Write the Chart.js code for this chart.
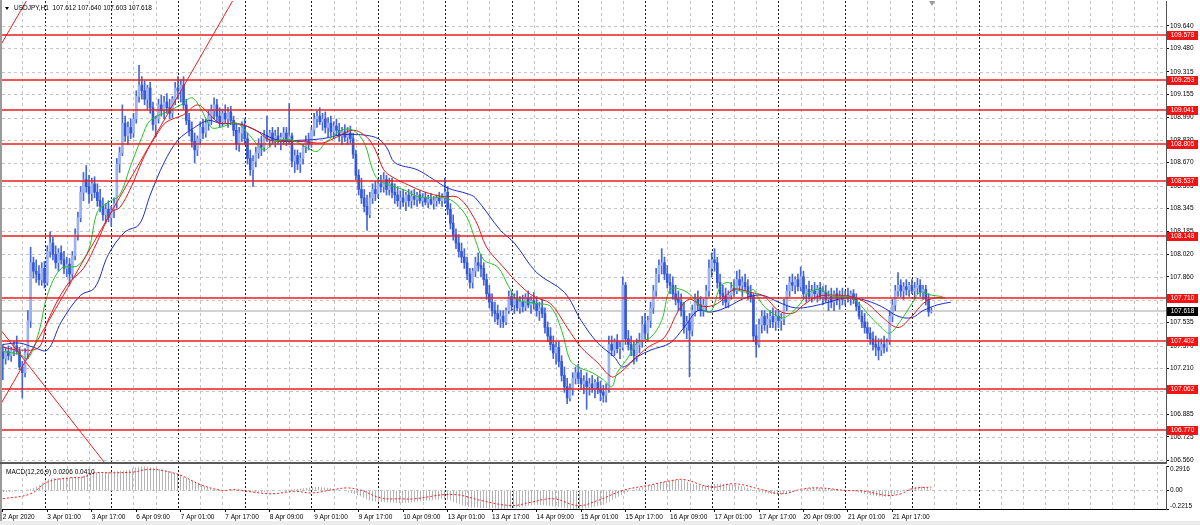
<!DOCTYPE html>
<html>
<head>
<meta charset="utf-8">
<script src="https://cdn.jsdelivr.net/npm/chart.js@4.4.1/dist/chart.umd.min.js"></script>
<style>
	body { margin: 0; background: #fff; width: 1200px; height: 525px; overflow: hidden; position: relative; }
	canvas { position: absolute; left: 0; }
	#main { top: 0; }
	#macd { top: 463px; }
	.txt { position: absolute; font: 6.5px "Liberation Sans", Arial, sans-serif; color: #000; white-space: nowrap; line-height: 8px; }
	#head { left: 14px; top: 4px; }
	#macdLabel { left: 6px; top: 468px; }
	#tri { position: absolute; left: 5px; top: 7px; width: 0; height: 0; border-left: 2.5px solid transparent; border-right: 2.5px solid transparent; border-top: 3px solid #000; }
	#shift { position: absolute; left: 929px; top: 1px; width: 0; height: 0; border-left: 3px solid transparent; border-right: 3px solid transparent; border-top: 5px solid #9a9a9a; }
	#leftEdge { position: absolute; left: 0; top: 0; width: 2px; height: 521px; background: #9a9a9a; }
	#split { position: absolute; left: 0; top: 462px; width: 1167px; height: 2px; background: #5a5a5a; }
	#bottom { position: absolute; left: 0; top: 521px; width: 1200px; height: 4px; background: #ececec; }
</style>
</head>
<body>
<canvas id="main" width="1200" height="463"></canvas>
<canvas id="macd" width="1200" height="62"></canvas>
<div id="leftEdge"></div>
<div id="split"></div>
<div id="bottom"></div>
<div id="tri"></div>
<div id="shift"></div>
<div class="txt" id="head">USDJPY,H1&nbsp; 107.612 107.640 107.603 107.618</div>
<div class="txt" id="macdLabel">MACD(12,26,9) 0.0206 0.0410</div>
<script>
// H1 bars, 2 Apr 2020 09:00 .. 22 Apr 07:00 (bar index 0..334)
const firstOpen = 107.33;
const closes = [
	// 2 Apr
	107.28,107.33,107.30,107.34,107.37,107.33,107.22,107.18,107.32,107.55,107.96,107.90,107.88,107.84,107.92,
	// 3 Apr
	107.82,108.04,108.10,108.02,107.96,108.03,107.98,107.92,107.95,107.88,108.01,108.16,108.28,108.46,108.55,108.50,108.45,108.52,108.46,108.40,108.36,108.30,108.34,108.28,
	// 6 Apr
	108.33,108.38,108.66,108.74,108.95,108.86,108.92,108.88,108.98,109.14,109.22,109.18,109.12,109.20,109.06,108.94,108.98,109.08,109.04,109.10,109.06,109.02,109.12,109.20,
	// 7 Apr
	109.18,109.22,109.08,108.97,108.90,108.82,108.76,108.84,108.92,108.88,108.95,109.00,109.04,109.08,109.00,108.96,109.02,108.98,109.03,108.97,108.90,108.80,108.88,108.93,
	// 8 Apr
	108.84,108.70,108.62,108.68,108.74,108.80,108.78,108.86,108.84,108.88,108.83,108.86,108.82,108.85,108.88,108.82,108.86,108.68,108.72,108.66,108.70,108.78,108.82,108.80,
	// 9 Apr
	108.90,108.98,109.00,108.96,108.98,108.92,108.95,108.89,108.93,108.90,108.86,108.89,108.85,108.88,108.84,108.73,108.58,108.48,108.42,108.36,108.30,108.42,108.48,108.45,
	// 10 Apr
	108.52,108.50,108.55,108.48,108.52,108.46,108.44,108.40,108.42,108.39,108.44,108.40,108.43,108.41,108.44,108.40,108.42,108.39,108.41,108.38,108.40,108.42,108.40,108.42,
	// 13 Apr
	108.46,108.34,108.24,108.16,108.10,108.04,108.00,107.96,107.88,107.82,107.90,107.96,107.94,107.92,107.84,107.74,107.68,107.62,107.60,107.56,107.58,107.54,107.62,107.72,
	// 14 Apr
	107.66,107.70,107.64,107.68,107.65,107.71,107.66,107.69,107.67,107.62,107.64,107.60,107.50,107.44,107.38,107.32,107.36,107.26,107.16,107.08,107.00,107.06,107.14,107.18,
	// 15 Apr
	107.14,107.10,107.12,107.08,107.10,107.07,107.11,107.06,107.04,107.02,107.06,107.38,107.34,107.40,107.35,107.36,107.80,107.42,107.38,107.34,107.30,107.38,107.40,107.52,
	// 16 Apr
	107.46,107.55,107.64,107.76,107.88,107.94,107.96,107.88,107.82,107.80,107.74,107.70,107.68,107.62,107.50,107.54,107.48,107.62,107.70,107.66,107.62,107.66,107.76,107.92,
	// 17 Apr
	107.98,107.96,107.82,107.74,107.72,107.68,107.73,107.78,107.76,107.84,107.80,107.82,107.79,107.74,107.72,107.44,107.38,107.52,107.58,107.52,107.56,107.58,107.54,107.58,
	// 20 Apr
	107.55,107.56,107.66,107.76,107.82,107.80,107.84,107.79,107.86,107.74,107.77,107.72,107.76,107.74,107.78,107.72,107.75,107.70,107.72,107.68,107.74,107.70,107.72,107.70,
	// 21 Apr
	107.73,107.71,107.74,107.70,107.65,107.58,107.54,107.50,107.46,107.42,107.38,107.36,107.34,107.38,107.36,107.40,107.58,107.66,107.76,107.80,107.76,107.79,107.77,107.80,
	// 22 Apr
	107.76,107.78,107.80,107.75,107.77,107.70,107.612,107.618,
];
const highs = [
	107.38,107.36,107.37,107.36,107.40,107.44,107.36,107.26,107.35,107.62,108.07,108.00,107.98,107.94,107.96,
	107.97,108.08,108.18,108.14,108.08,108.06,108.08,108.04,108.00,107.99,108.04,108.20,108.32,108.50,108.60,108.65,108.58,108.56,108.57,108.52,108.48,108.42,108.38,108.40,
	108.36,108.42,108.70,108.78,109.08,109.00,108.96,108.98,109.02,109.18,109.36,109.28,109.25,109.22,109.24,109.10,109.00,109.12,109.15,109.14,109.16,109.12,109.14,109.24,
	109.28,109.26,109.28,109.12,109.02,108.96,108.88,108.86,108.96,108.98,108.98,109.04,109.08,109.13,109.12,109.06,109.05,109.08,109.06,109.07,109.00,108.95,108.92,108.96,
	108.98,108.88,108.76,108.72,108.78,108.84,108.86,108.90,109.00,108.90,108.92,108.90,108.92,108.88,108.92,108.92,109.09,108.88,108.76,108.76,108.74,108.80,108.86,108.88,
	108.92,109.02,109.04,109.06,109.02,109.03,108.99,109.00,108.96,108.98,108.95,108.92,108.94,108.92,108.93,108.88,108.76,108.62,108.56,108.48,108.44,108.46,108.52,108.54,
	108.55,108.58,108.60,108.58,108.56,108.56,108.52,108.50,108.47,108.48,108.46,108.48,108.47,108.48,108.46,108.47,108.45,108.46,108.44,108.45,108.43,108.44,108.46,108.45,
	108.56,108.50,108.38,108.30,108.20,108.16,108.10,108.06,108.00,107.92,107.92,108.00,108.03,108.02,107.96,107.88,107.80,107.74,107.68,107.66,107.62,107.62,107.64,107.76,
	107.76,107.74,107.76,107.72,107.73,107.74,107.76,107.72,107.75,107.72,107.68,107.70,107.64,107.54,107.50,107.44,107.40,107.40,107.30,107.22,107.14,107.10,107.18,107.22,
	107.24,107.20,107.16,107.18,107.14,107.16,107.13,107.15,107.12,107.09,107.10,107.44,107.44,107.42,107.45,107.40,107.86,107.82,107.48,107.44,107.40,107.42,107.46,107.58,
	107.60,107.58,107.68,107.80,107.92,107.98,108.06,108.00,107.94,107.88,107.86,107.80,107.76,107.74,107.68,107.58,107.60,107.66,107.74,107.76,107.72,107.70,107.80,107.98,
	108.03,108.06,108.00,107.88,107.80,107.78,107.76,107.82,107.84,107.90,107.91,107.86,107.88,107.84,107.80,107.74,107.52,107.56,107.62,107.62,107.60,107.62,107.64,107.62,
	107.62,107.60,107.70,107.80,107.86,107.88,107.86,107.88,107.93,107.90,107.80,107.83,107.80,107.82,107.80,107.82,107.79,107.80,107.76,107.78,107.76,107.78,107.76,107.78,
	107.76,107.78,107.76,107.77,107.74,107.68,107.62,107.60,107.54,107.50,107.47,107.44,107.42,107.42,107.44,107.42,107.62,107.70,107.80,107.89,107.84,107.82,107.84,107.82,
	107.84,107.82,107.85,107.84,107.80,107.80,107.74,107.640,
];
const lows = [
	107.13,107.24,107.27,107.26,107.30,107.31,107.20,107.00,107.15,107.28,107.50,107.85,107.82,107.80,107.80,
	107.78,107.80,108.00,107.98,107.92,107.90,107.95,107.88,107.86,107.80,107.85,107.98,108.12,108.25,108.40,108.46,108.38,108.40,108.42,108.36,108.32,108.26,108.24,108.25,
	108.22,108.28,108.35,108.60,108.72,108.82,108.80,108.84,108.85,108.95,109.10,109.12,109.08,109.05,109.02,108.90,108.85,108.95,109.00,108.98,109.02,108.98,108.99,109.08,
	109.12,109.10,109.05,108.94,108.86,108.78,108.67,108.72,108.80,108.84,108.85,108.90,108.94,108.98,108.96,108.92,108.93,108.95,108.92,108.94,108.86,108.76,108.75,108.82,
	108.80,108.66,108.58,108.50,108.64,108.70,108.72,108.75,108.82,108.78,108.80,108.78,108.80,108.76,108.80,108.79,108.80,108.64,108.60,108.62,108.60,108.66,108.74,108.76,
	108.78,108.86,108.92,108.94,108.90,108.88,108.85,108.86,108.84,108.86,108.82,108.80,108.82,108.80,108.81,108.70,108.55,108.44,108.38,108.32,108.19,108.28,108.38,108.40,
	108.42,108.46,108.46,108.44,108.44,108.42,108.38,108.36,108.34,108.36,108.33,108.36,108.35,108.37,108.36,108.38,108.36,108.37,108.35,108.37,108.34,108.36,108.38,108.36,
	108.38,108.30,108.20,108.12,108.06,108.00,107.96,107.92,107.84,107.78,107.78,107.86,107.90,107.86,107.80,107.70,107.64,107.58,107.54,107.52,107.50,107.50,107.52,107.60,
	107.62,107.60,107.62,107.60,107.61,107.62,107.64,107.60,107.63,107.58,107.55,107.57,107.46,107.40,107.34,107.28,107.24,107.22,107.12,107.04,106.96,106.98,107.02,107.10,
	107.10,107.06,107.03,106.92,107.02,107.04,107.00,107.03,106.98,106.97,106.97,107.04,107.30,107.30,107.32,107.28,107.34,107.38,107.34,107.30,107.24,107.26,107.32,107.36,
	107.42,107.40,107.50,107.60,107.72,107.82,107.88,107.84,107.78,107.74,107.70,107.66,107.62,107.58,107.46,107.42,107.15,107.44,107.58,107.62,107.58,107.58,107.62,107.72,
	107.86,107.90,107.78,107.70,107.66,107.64,107.64,107.70,107.72,107.74,107.76,107.72,107.76,107.70,107.68,107.40,107.29,107.36,107.46,107.48,107.46,107.50,107.50,107.48,
	107.50,107.48,107.52,107.62,107.72,107.76,107.74,107.76,107.76,107.70,107.68,107.70,107.68,107.70,107.68,107.70,107.66,107.68,107.62,107.64,107.62,107.66,107.63,107.66,
	107.66,107.68,107.66,107.67,107.62,107.56,107.50,107.46,107.42,107.38,107.34,107.30,107.27,107.30,107.32,107.33,107.38,107.54,107.62,107.72,107.72,107.70,107.73,107.72,
	107.74,107.70,107.74,107.72,107.70,107.66,107.58,107.603,
];

// moving averages: [bar, price]
const maGreen = [[0,107.33],[6,107.31],[9,107.28],[13,107.47],[16,107.73],[21,107.92],[27,107.94],[31,108.06],[34,108.32],[38,108.39],[42,108.44],[46,108.65],[50,108.85],[53,108.97],[59,109.03],[64,109.08],[68,109.13],[71,109.06],[75,108.92],[78,108.92],[84,108.95],[88,108.88],[94,108.76],[98,108.82],[104,108.83],[109,108.78],[113,108.75],[116,108.81],[122,108.90],[126,108.90],[130,108.81],[133,108.62],[135,108.55],[139,108.51],[144,108.48],[149,108.43],[153,108.42],[159,108.42],[163,108.38],[167,108.28],[170,108.12],[173,107.98],[178,107.93],[182,107.79],[185,107.70],[192,107.67],[197,107.65],[201,107.48],[204,107.27],[207,107.22],[212,107.18],[216,107.13],[219,107.08],[221,107.18],[225,107.29],[228,107.39],[233,107.43],[237,107.55],[240,107.77],[244,107.77],[248,107.72],[252,107.62],[255,107.62],[258,107.79],[261,107.82],[264,107.77],[268,107.75],[270,107.77],[273,107.67],[277,107.60],[281,107.57],[286,107.65],[290,107.75],[294,107.77],[299,107.72],[304,107.72],[308,107.67],[311,107.60],[316,107.50],[319,107.46],[323,107.55],[327,107.67],[330,107.75],[334,107.73],[338,107.72]];
const maRed = [[0,107.36],[6,107.34],[13,107.36],[16,107.54],[23,107.80],[29,107.92],[34,108.11],[39,108.32],[42,108.35],[46,108.49],[51,108.72],[56,108.89],[59,108.96],[65,109.01],[70,109.08],[74,109.02],[78,108.95],[84,108.95],[91,108.90],[96,108.83],[102,108.82],[108,108.82],[115,108.81],[120,108.85],[126,108.90],[131,108.85],[134,108.76],[137,108.62],[140,108.57],[146,108.51],[152,108.46],[158,108.43],[164,108.42],[170,108.26],[174,108.07],[180,107.93],[185,107.82],[191,107.72],[197,107.67],[203,107.50],[208,107.36],[214,107.25],[219,107.15],[222,107.18],[227,107.27],[232,107.36],[238,107.43],[243,107.62],[247,107.70],[252,107.65],[257,107.67],[263,107.77],[269,107.75],[274,107.72],[279,107.62],[284,107.60],[288,107.66],[293,107.72],[299,107.73],[305,107.72],[311,107.67],[316,107.58],[322,107.50],[327,107.58],[331,107.67],[335,107.71],[339,107.71]];
const maBlue = [[0,107.38],[6,107.39],[11,107.36],[16,107.34],[21,107.54],[28,107.73],[33,107.78],[38,108.02],[44,108.18],[49,108.23],[53,108.44],[58,108.67],[63,108.83],[69,108.92],[74,108.97],[78,108.95],[86,108.94],[93,108.88],[99,108.83],[108,108.83],[115,108.84],[123,108.87],[134,108.85],[138,108.78],[141,108.67],[149,108.62],[155,108.55],[160,108.49],[167,108.45],[170,108.42],[179,108.19],[184,108.10],[192,107.89],[202,107.75],[208,107.55],[214,107.39],[220,107.29],[223,107.22],[228,107.29],[233,107.34],[240,107.39],[245,107.50],[250,107.62],[255,107.61],[261,107.65],[267,107.71],[273,107.73],[279,107.68],[285,107.64],[291,107.65],[297,107.68],[303,107.71],[309,107.70],[316,107.65],[322,107.58],[327,107.57],[331,107.62],[336,107.66],[341,107.68]];

// trend lines: [bar, price] end points
const trendA = [[-5,106.81],[90,110.07]];
const trendB = [[-5,109.36],[20,110.21]];
const trendC = [[-5,107.59],[45,106.33]];

// horizontal levels
const levels = [109.578, 109.253, 109.041, 108.805, 108.537, 108.148, 107.710, 107.402, 107.062, 106.770];
const lastPrice = 107.618;

// axis ticks
const priceTicks = [109.640, 109.480, 109.315, 109.155, 108.990, 108.830, 108.670, 108.505, 108.345, 108.185, 108.020, 107.860, 107.695, 107.535, 107.370, 107.210, 107.050, 106.885, 106.725, 106.560];
const timeLabels = ['2 Apr 2020','3 Apr 01:00','3 Apr 17:00','6 Apr 09:00','7 Apr 01:00','7 Apr 17:00','8 Apr 09:00','9 Apr 01:00','9 Apr 17:00','10 Apr 09:00','13 Apr 01:00','13 Apr 17:00','14 Apr 09:00','15 Apr 01:00','15 Apr 17:00','16 Apr 09:00','17 Apr 01:00','17 Apr 17:00','20 Apr 09:00','21 Apr 01:00','21 Apr 17:00'];
const labelEvery = 16;
const dayStarts = [15,39,63,87,111,135,159,183,207,231,255,279,303,327,351];
const gridEvery = 8;

// MACD(12,26,9): [bar, value]
const macdMain = [[0,-0.02],[6,-0.01],[10,0.02],[13,0.06],[16,0.13],[22,0.15],[28,0.16],[32,0.21],[38,0.22],[44,0.24],[50,0.29],[56,0.26],[61,0.22],[66,0.15],[71,0.08],[75,0.02],[80,0.0],[86,-0.01],[92,-0.02],[99,0.0],[106,0.02],[114,0.04],[122,0.0],[128,-0.06],[132,-0.12],[138,-0.14],[144,-0.15],[150,-0.13],[156,-0.11],[160,-0.11],[164,-0.16],[168,-0.2],[174,-0.21],[180,-0.22],[186,-0.2],[192,-0.17],[198,-0.19],[204,-0.22],[210,-0.21],[216,-0.17],[220,-0.1],[224,-0.03],[228,0.02],[234,0.07],[240,0.12],[244,0.13],[248,0.08],[252,0.06],[257,0.08],[262,0.07],[267,0.04],[271,-0.01],[276,-0.04],[280,-0.05],[285,-0.01],[290,0.03],[295,0.03],[300,0.01],[305,0.0],[310,-0.04],[315,-0.07],[319,-0.07],[323,-0.02],[328,0.04],[331,0.05],[334,0.0206]];
const macdSignal = [[0,-0.10],[10,-0.04],[16,0.10],[24,0.15],[29,0.16],[33,0.21],[39,0.21],[47,0.22],[52,0.25],[57,0.24],[64,0.18],[71,0.07],[79,0.0],[83,0.01],[90,-0.02],[97,-0.04],[105,-0.01],[111,-0.03],[119,0.01],[124,0.03],[129,0.0],[136,-0.09],[143,-0.10],[148,-0.10],[159,-0.05],[165,-0.06],[172,-0.12],[183,-0.18],[190,-0.14],[198,-0.10],[207,-0.18],[214,-0.12],[223,0.0],[232,0.06],[241,0.12],[245,0.13],[255,0.04],[263,0.08],[273,0.01],[280,-0.04],[288,0.02],[294,0.03],[303,0.0],[310,-0.01],[318,-0.06],[323,-0.04],[327,0.02],[334,0.041]];
const macdMax = 0.2916, macdMin = -0.2215;

// visible ranges
const xMin = -0.3, xMax = 418.4;
const yMin = 106.546, yMax = 109.817;

const family = '"Liberation Sans", Arial, sans-serif';
const font = { family, size: 6.5 };
const lineRed = '#ee1c1c';
const gridGray = '#c4c4c4';
const bullColor = '#9bb2ee';
const bearColor = '#3558d6';
const wickColor = '#4666da';

const opens = closes.map((c, i) => (i === 0 ? firstOpen : closes[i - 1]));
const wicks = closes.map((c, i) => ({ x: i, y: [lows[i], highs[i]] }));
const bodies = closes.map((c, i) => ({ x: i, y: [Math.min(opens[i], c), Math.max(opens[i], c)] }));
const bodyColors = closes.map((c, i) => (c >= opens[i] ? bullColor : bearColor));
const pts = arr => arr.map(p => ({ x: p[0], y: p[1] }));

function drawVGrid(chart) {
	const { ctx, chartArea: a, scales: { x } } = chart;
	ctx.save();
	ctx.lineWidth = 1;
	for (let i = dayStarts[0] - 2 * gridEvery; i <= xMax; i += gridEvery) {
		if (i < xMin) continue;
		const px = Math.round(x.getPixelForValue(i)) + 0.5;
		const day = dayStarts.includes(i);
		ctx.strokeStyle = day ? '#1a1a1a' : gridGray;
		ctx.setLineDash(day ? [2, 2] : [3, 3]);
		ctx.beginPath();
		ctx.moveTo(px, a.top);
		ctx.lineTo(px, a.bottom);
		ctx.stroke();
	}
	ctx.restore();
}

const mainDecor = {
	id: 'mainDecor',
	beforeDatasetsDraw(chart) {
		const { ctx, chartArea: a, scales: { y } } = chart;
		drawVGrid(chart);
		ctx.save();
		ctx.strokeStyle = gridGray;
		ctx.setLineDash([3, 3]);
		priceTicks.forEach(v => {
			const py = Math.round(y.getPixelForValue(v)) + 0.5;
			ctx.beginPath();
			ctx.moveTo(a.left, py);
			ctx.lineTo(a.right, py);
			ctx.stroke();
		});
		ctx.setLineDash([]);
		// bid line
		ctx.strokeStyle = '#d2d2d2';
		ctx.lineWidth = 2;
		const by = Math.round(y.getPixelForValue(lastPrice));
		ctx.beginPath();
		ctx.moveTo(a.left, by);
		ctx.lineTo(a.right, by);
		ctx.stroke();
		ctx.restore();
	},
	afterDatasetsDraw(chart) {
		const { ctx, chartArea: a, scales: { y } } = chart;
		ctx.save();
		ctx.strokeStyle = lineRed;
		ctx.lineWidth = 1.5;
		levels.forEach(v => {
			const py = Math.round(y.getPixelForValue(v));
			ctx.beginPath();
			ctx.moveTo(a.left, py);
			ctx.lineTo(a.right, py);
			ctx.stroke();
		});
		ctx.restore();
	},
	afterDraw(chart) {
		const { ctx, chartArea: a, scales: { y } } = chart;
		ctx.save();
		ctx.font = `6.5px ${family}`;
		ctx.textAlign = 'center';
		ctx.textBaseline = 'middle';
		const box = (v, bg) => {
			const py = Math.round(y.getPixelForValue(v));
			ctx.fillStyle = bg;
			ctx.fillRect(a.right + 1, py - 4, 31, 9);
			ctx.fillStyle = '#fff';
			ctx.fillText(v.toFixed(3), a.right + 16.5, py + 0.5);
		};
		levels.forEach(v => box(v, '#f21414'));
		box(lastPrice, '#000');
		ctx.restore();
	},
};

const macdDecor = {
	id: 'macdDecor',
	beforeDatasetsDraw(chart) {
		const { ctx, chartArea: a, scales: { y } } = chart;
		drawVGrid(chart);
		ctx.save();
		ctx.strokeStyle = gridGray;
		ctx.setLineDash([3, 3]);
		const py = Math.round(y.getPixelForValue(0)) + 0.5;
		ctx.beginPath();
		ctx.moveTo(a.left, py);
		ctx.lineTo(a.right, py);
		ctx.stroke();
		ctx.restore();
	},
	afterDraw(chart) {
		const { ctx, chartArea: a, scales: { y } } = chart;
		ctx.save();
		ctx.font = `6.5px ${family}`;
		ctx.fillStyle = '#000';
		ctx.textAlign = 'left';
		const lx = a.right + 4;
		ctx.textBaseline = 'top';
		ctx.fillText(macdMax.toFixed(4), lx, y.getPixelForValue(macdMax));
		ctx.textBaseline = 'middle';
		ctx.fillText('0.00', lx, y.getPixelForValue(0));
		ctx.textBaseline = 'bottom';
		ctx.fillText(macdMin.toFixed(4), lx, y.getPixelForValue(macdMin));
		ctx.restore();
	},
};

const noPad = s => {
	s.paddingTop = 0;
	s.paddingBottom = 0;
	s.paddingLeft = 0;
	s.paddingRight = 0;
};

const lineSet = (data, color, order, tension) => ({
	type: 'line',
	data: pts(data),
	borderColor: color,
	borderWidth: 1,
	pointRadius: 0,
	tension,
	fill: false,
	order,
});

// base type 'line' so the linear x axis gets no bar offset
new Chart(document.getElementById('main'), {
	type: 'line',
	data: {
		datasets: [
			lineSet(trendA, lineRed, 0, 0),
			lineSet(trendB, lineRed, 0, 0),
			lineSet(trendC, lineRed, 0, 0),
			lineSet(maGreen, '#22c422', 1, 0.35),
			lineSet(maRed, '#e01818', 1, 0.35),
			lineSet(maBlue, '#1c2cc8', 1, 0.35),
			{ type: 'bar', data: bodies, backgroundColor: bodyColors, grouped: false, barThickness: 2, maxBarThickness: 2, minBarLength: 1, order: 3 },
			{ type: 'bar', data: wicks, backgroundColor: wickColor, grouped: false, barThickness: 1, maxBarThickness: 1, order: 4 },
		],
	},
	options: {
		responsive: false,
		animation: false,
		events: [],
		layout: { padding: { left: 2, top: 1, right: 0, bottom: 1 } },
		plugins: { legend: { display: false }, tooltip: { enabled: false } },
		scales: {
			x: { type: 'linear', min: xMin, max: xMax, offset: false, bounds: 'data', display: false },
			y: {
				position: 'right',
				min: yMin,
				max: yMax,
				afterBuildTicks: s => { s.ticks = priceTicks.map(v => ({ value: v })); },
				afterFit: s => { s.width = 34; noPad(s); },
				ticks: { font, color: '#000', padding: 1, autoSkip: false, callback: v => v.toFixed(3) },
				grid: { drawOnChartArea: false, tickLength: 3, color: '#000' },
				border: { color: '#555' },
			},
		},
	},
	plugins: [mainDecor],
});

// histogram drawn as striped fill under the MACD line
const stripe = document.createElement('canvas');
stripe.width = 3;
stripe.height = 1;
const sctx = stripe.getContext('2d');
sctx.fillStyle = '#b4b4b4';
sctx.fillRect(0, 0, 1, 1);
const histFill = sctx.createPattern(stripe, 'repeat');

new Chart(document.getElementById('macd'), {
	type: 'line',
	data: {
		datasets: [
			{ data: pts(macdSignal), borderColor: '#ff1a1a', borderWidth: 1, borderDash: [2, 2], pointRadius: 0, tension: 0.4, fill: false, order: 0 },
			{ data: pts(macdMain), borderColor: 'transparent', borderWidth: 0, backgroundColor: histFill, pointRadius: 0, tension: 0.3, fill: 'origin', order: 1 },
		],
	},
	options: {
		responsive: false,
		animation: false,
		events: [],
		layout: { padding: { left: 2, top: 3, right: 0, bottom: 0 } },
		plugins: { legend: { display: false }, tooltip: { enabled: false } },
		scales: {
			x: {
				type: 'linear',
				min: xMin,
				max: xMax,
				afterBuildTicks: s => { s.ticks = timeLabels.map((t, k) => ({ value: k * labelEvery })); },
				afterFit: s => { s.height = 16; noPad(s); },
				ticks: { font, color: '#000', align: 'start', maxRotation: 0, autoSkip: false, padding: 1, callback: (v, k) => timeLabels[k] },
				grid: { drawOnChartArea: false, tickLength: 3, color: '#000' },
				border: { color: '#000' },
			},
			y: {
				position: 'right',
				min: macdMin,
				max: macdMax,
				afterBuildTicks: s => { s.ticks = [macdMax, 0, macdMin].map(v => ({ value: v })); },
				afterFit: s => { s.width = 34; noPad(s); },
				ticks: { display: false },
				grid: { drawOnChartArea: false, tickLength: 3, color: '#000' },
				border: { color: '#555' },
			},
		},
	},
	plugins: [macdDecor],
});
</script>
</body>
</html>
